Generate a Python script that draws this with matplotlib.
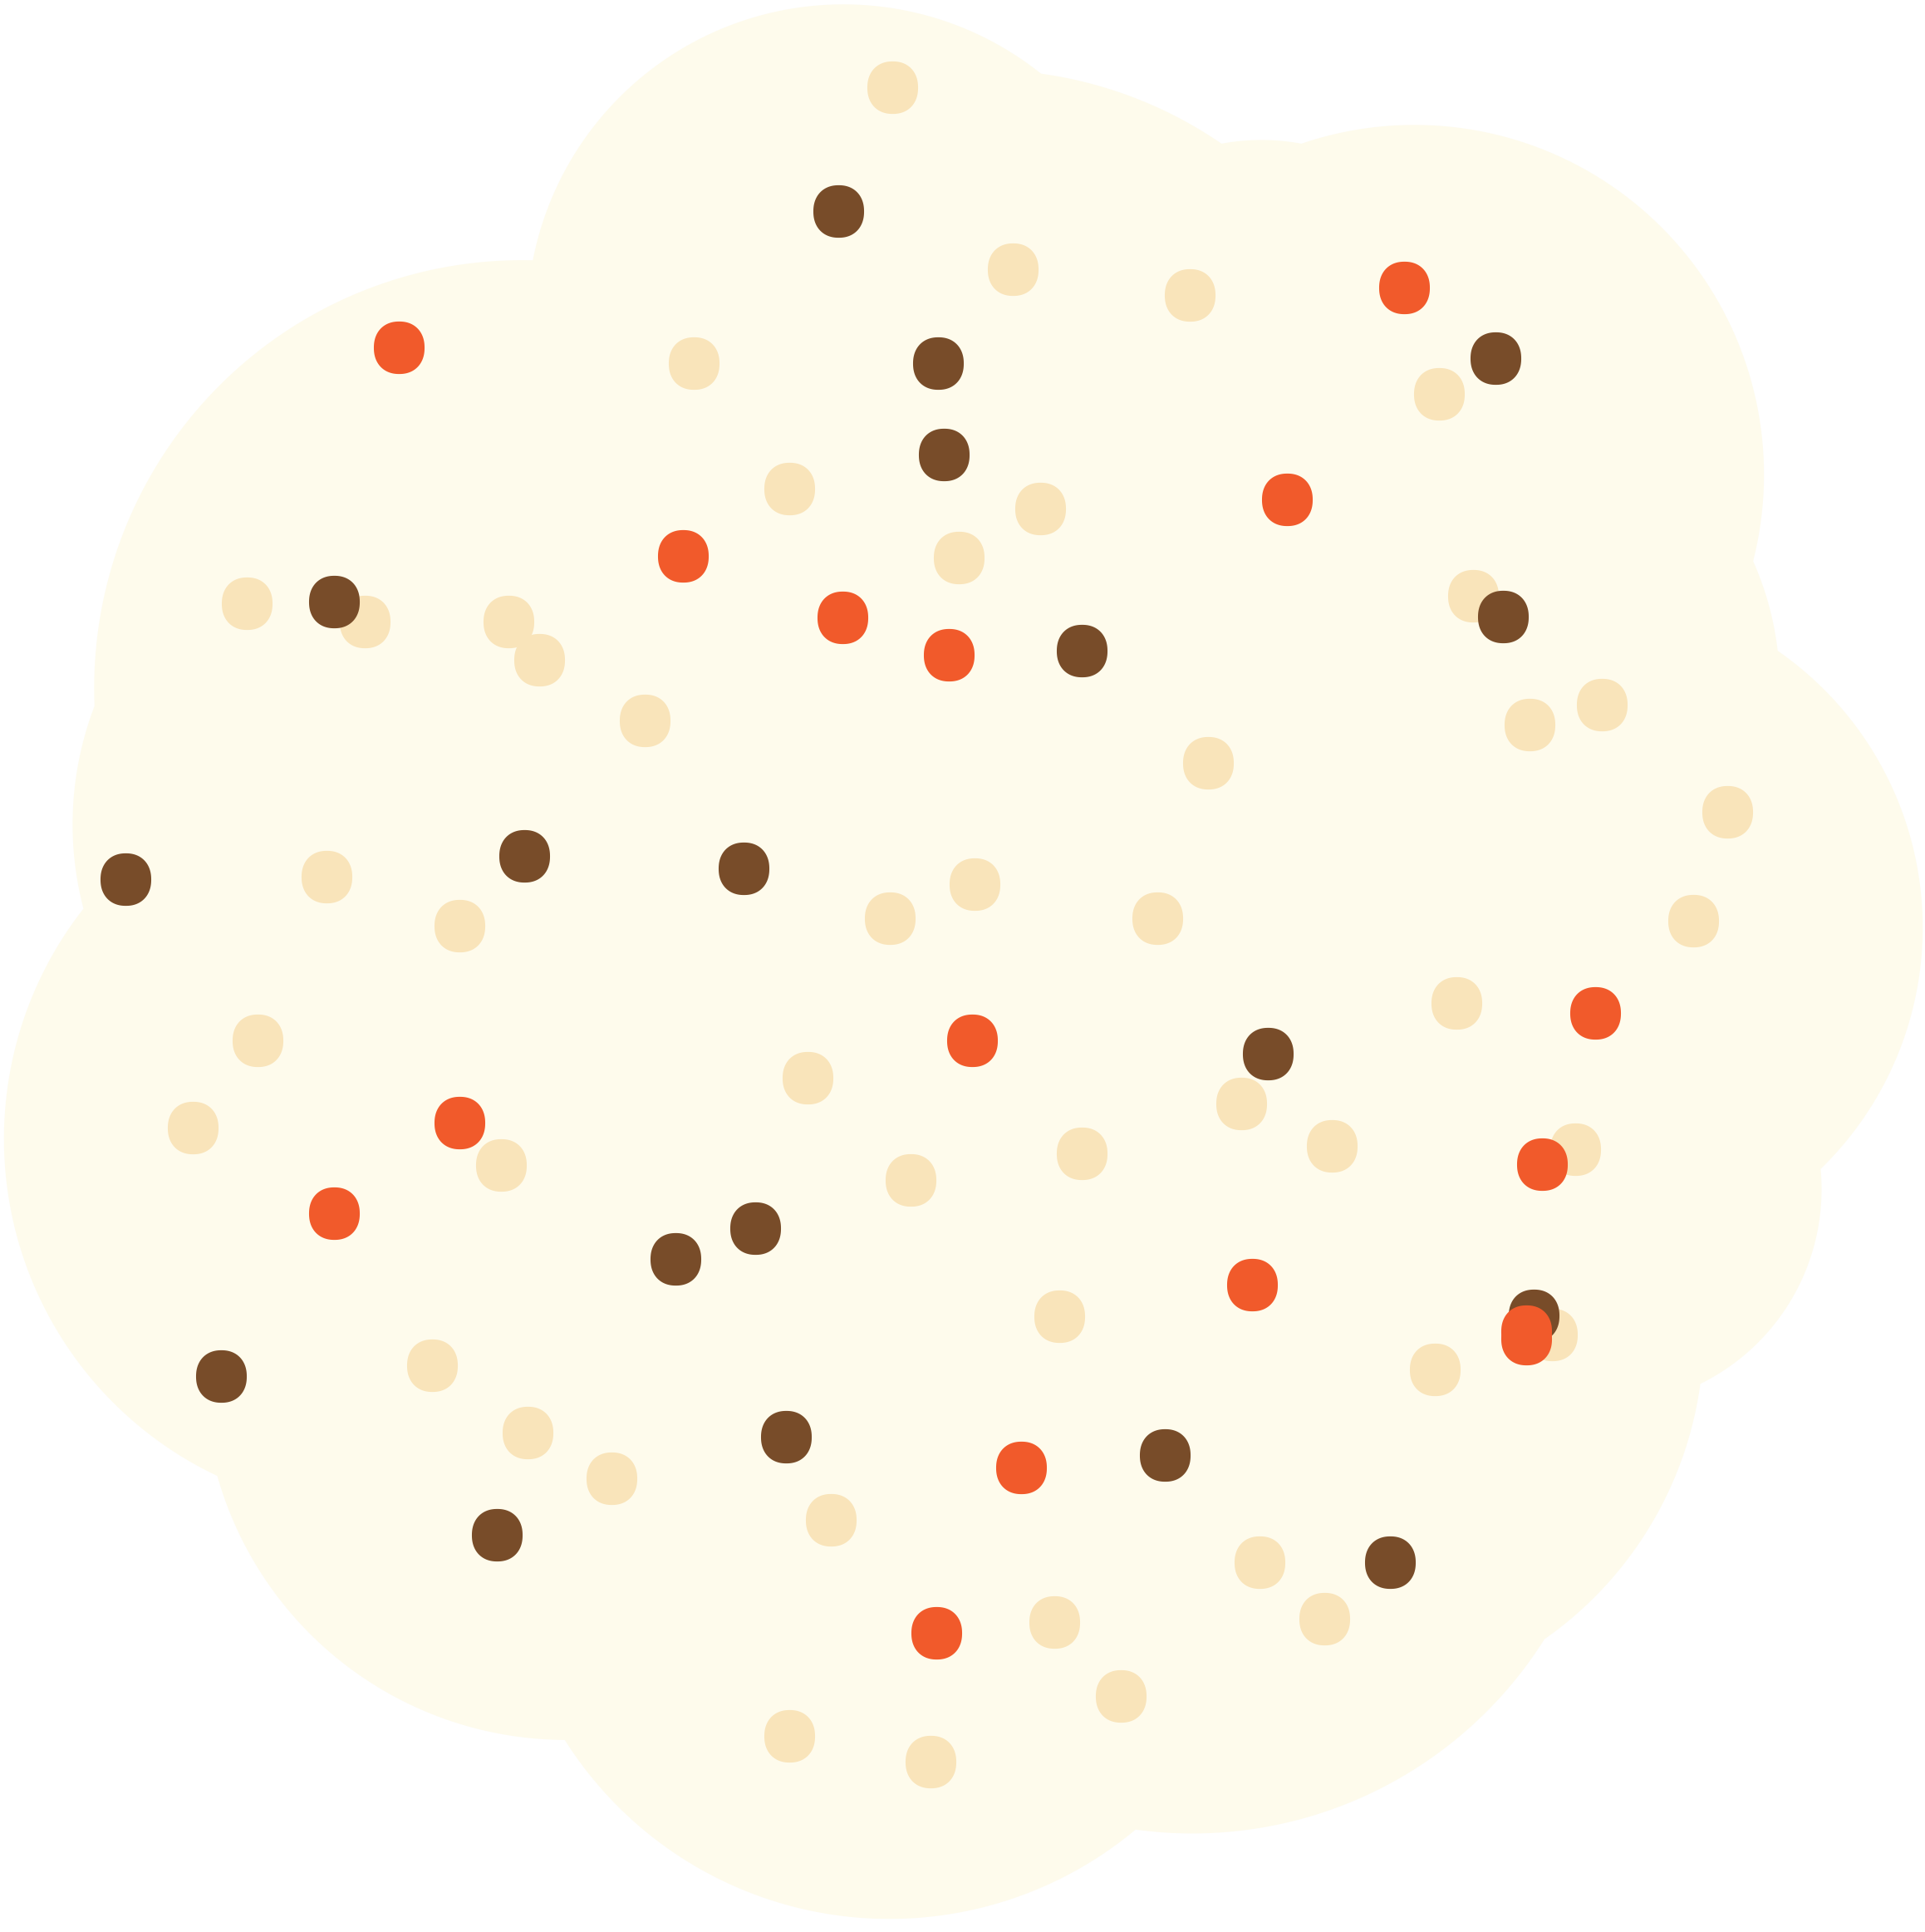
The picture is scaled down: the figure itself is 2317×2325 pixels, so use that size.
import numpy as np
import matplotlib
matplotlib.use("Agg")
import matplotlib.pyplot as plt
from matplotlib.path import Path
from matplotlib.patches import PathPatch

# ---- data (positions in reference-view units, 0..1568 wide) ----
tan_x = [727, 825, 969, 565, 1172, 643, 847, 781, 201, 297, 414, 439, 525, 1200,
         1246, 1305, 984, 1407, 266, 374, 794, 725, 943, 1379, 210, 1186, 658, 157,
         1011, 408, 881, 1085, 742, 1283, 863, 1264, 352, 1169, 430, 498, 677, 1026,
         859, 1079, 913, 643, 758]
tan_y = [71, 219, 240, 296, 321, 398, 414, 454, 491, 506, 506, 537, 587, 485,
         590, 574, 621, 661, 714, 754, 720, 748, 748, 750, 847, 817, 878, 918,
         899, 949, 939, 933, 961, 936, 1072, 1087, 1112, 1115, 1167, 1204, 1238, 1272,
         1321, 1318, 1381, 1414, 1435]

brown_x = [683, 764, 769, 1218, 272, 1224, 881, 102, 427, 606, 1033, 615, 550, 180,
           640, 949, 405, 1132, 1249]
brown_y = [172, 296, 370, 292, 490, 502, 530, 716, 697, 707, 858, 1000, 1025, 1121,
           1170, 1185, 1250, 1272, 1071]

orange_x = [325, 1144, 556, 1048, 686, 773, 1299, 792, 374, 1256, 272, 1020, 1243,
            1243, 832, 763]
orange_y = [283, 234, 453, 407, 503, 533, 825, 847, 914, 948, 988, 1046, 1084,
            1090, 1195, 1330]

# cookie outline: arcs between sharp notches (first/last point = notch)
outline_segments = [
    [(434, 212), (442, 170), (480, 110), (540, 55), (605, 18), (680, 0), (740, 8), (783, 20), (848, 60)],
    [(848, 60), (925, 80), (995, 117)],
    [(995, 117), (1028, 114), (1060, 117)],
    [(1060, 117), (1163, 103), (1258, 125), (1358, 190), (1423, 300), (1443, 370), (1428, 457)],
    [(1428, 457), (1440, 490), (1448, 530)],
    [(1448, 530), (1508, 590), (1547, 660), (1565, 725), (1565, 785), (1552, 850), (1528, 895), (1483, 952)],
    [(1483, 952), (1475, 1010), (1468, 1045), (1433, 1095), (1385, 1127)],
    [(1385, 1127), (1373, 1185), (1348, 1235), (1303, 1295), (1258, 1335)],
    [(1258, 1335), (1233, 1375), (1173, 1430), (1083, 1470), (925, 1490)],
    [(925, 1490), (883, 1525), (840, 1548), (783, 1566), (710, 1557), (605, 1530), (460, 1417)],
    [(460, 1417), (395, 1400), (280, 1360), (220, 1295), (177, 1202)],
    [(177, 1202), (100, 1145), (40, 1065), (0, 945), (10, 850), (40, 785), (68, 740)],
    [(68, 740), (60, 650), (77, 575)],
    [(77, 575), (75, 500), (95, 425), (130, 360), (190, 305), (260, 265), (350, 235), (434, 212)],
]

COOKIE = "#FEFBEC"
TAN = "#F9E4BA"
BROWN = "#784C29"
ORANGE = "#F15A2B"


def arc_segment(pts, n=80):
    p = np.asarray(pts, float)
    A, B = p[0], p[-1]
    inner = p[1:-1]
    M = (A + B) / 2
    d = B - A
    nrm = np.array([-d[1], d[0]]) / np.hypot(*d)
    ds = np.linspace(-6000, 6000, 24001)
    best, bd = None, 0
    for dd in ds:
        C = M + dd * nrm
        r = np.hypot(*(A - C))
        err = np.sum((np.hypot(inner[:, 0] - C[0], inner[:, 1] - C[1]) - r) ** 2)
        if best is None or err < best:
            best, bd = err, dd
    C = M + bd * nrm
    r = np.hypot(*(A - C))
    a0 = np.arctan2(A[1] - C[1], A[0] - C[0])
    a1 = np.arctan2(B[1] - C[1], B[0] - C[0])
    mid = inner[len(inner) // 2]
    am = np.arctan2(mid[1] - C[1], mid[0] - C[0])
    ccw = (a1 - a0) % (2 * np.pi)
    rel = (am - a0) % (2 * np.pi)
    if rel <= ccw:
        angs = a0 + np.linspace(0, ccw, n)
    else:
        angs = a0 - np.linspace(0, 2 * np.pi - ccw, n)
    return np.column_stack([C[0] + r * np.cos(angs), C[1] + r * np.sin(angs)])


W, H = 2317, 2325
fig = plt.figure(figsize=(W / 100, H / 100), dpi=100)
ax = fig.add_axes([0, 0, 1, 1])
VW = 1568
VH = VW * H / W
ax.set_xlim(0, VW)
ax.set_ylim(VH, 0)
ax.axis("off")

verts = np.vstack([arc_segment(s) for s in outline_segments])
codes = [Path.MOVETO] + [Path.LINETO] * (len(verts) - 2) + [Path.CLOSEPOLY]
ax.add_patch(PathPatch(Path(verts, codes), facecolor=COOKIE, edgecolor="none", zorder=1))

# slightly squared round dot marker
t = np.linspace(0, 2 * np.pi, 200)
ne = 2.2
mx = 0.483 * np.sign(np.cos(t)) * np.abs(np.cos(t)) ** (2 / ne)
my = 0.5 * np.sign(np.sin(t)) * np.abs(np.sin(t)) ** (2 / ne)
dot = Path(np.column_stack([mx, my]), closed=True)

size = 2070
ax.scatter(tan_x, tan_y, s=size, marker=dot, c=TAN, linewidths=0, zorder=2)
ax.scatter(brown_x, brown_y, s=size, marker=dot, c=BROWN, linewidths=0, zorder=3)
ax.scatter(orange_x, orange_y, s=size, marker=dot, c=ORANGE, linewidths=0, zorder=4)

fig.savefig("out.png", dpi=100, facecolor="white")
